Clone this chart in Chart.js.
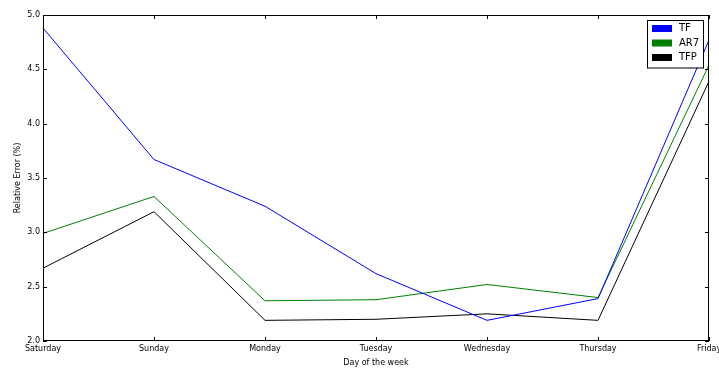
<!DOCTYPE html>
<html>
<head>
<meta charset="utf-8">
<script src="https://cdn.jsdelivr.net/npm/chart.js@4"></script>
<style>
  html, body { margin: 0; padding: 0; background: #fff; }
  #wrap { width: 719px; height: 372px; }
</style>
</head>
<body>
<div id="wrap"><canvas id="chart" width="719" height="372"></canvas></div>
<script>
// Data
const days = ['Saturday', 'Sunday', 'Monday', 'Tuesday', 'Wednesday', 'Thursday', 'Friday'];
const tfValues = [4.88, 3.67, 3.24, 2.62, 2.19, 2.39, 4.77];
const ar7Values = [2.99, 3.33, 2.37, 2.38, 2.52, 2.40, 4.54];
const tfpValues = [2.67, 3.19, 2.19, 2.20, 2.25, 2.19, 4.39];
const yTicks = [2.0, 2.5, 3.0, 3.5, 4.0, 4.5, 5.0];

const FONT = { family: 'DejaVu Sans', size: 8 };

// Frame around the axes, inward ticks and a boxed legend (matplotlib look)
const framePlugin = {
    id: 'frame',
    afterDraw(chart) {
        const ctx = chart.ctx;
        const a = chart.chartArea;
        const xs = chart.scales.x;
        const ys = chart.scales.y;
        ctx.save();
        ctx.strokeStyle = '#000';
        ctx.lineWidth = 1;
        ctx.strokeRect(a.left + 0.5, a.top + 0.5, a.right - a.left - 1, a.bottom - a.top - 1);

        // inward tick marks
        ctx.beginPath();
        xs.ticks.forEach((t, i) => {
            const px = Math.round(xs.getPixelForTick(i)) + 0.5;
            ctx.moveTo(px, a.bottom); ctx.lineTo(px, a.bottom - 4);
            ctx.moveTo(px, a.top); ctx.lineTo(px, a.top + 4);
        });
        ys.ticks.forEach((t, i) => {
            const py = Math.round(ys.getPixelForTick(i)) + 0.5;
            ctx.moveTo(a.left, py); ctx.lineTo(a.left + 4, py);
            ctx.moveTo(a.right, py); ctx.lineTo(a.right - 4, py);
        });
        ctx.stroke();

        // legend box in the upper right corner
        const sets = chart.data.datasets;
        const boxW = 56, rowH = 14.5;
        const boxH = sets.length * rowH + 4;
        const bx = a.right - 62, by = a.top + 5;
        ctx.fillStyle = '#fff';
        ctx.fillRect(bx, by, boxW, boxH);
        ctx.strokeStyle = '#000';
        ctx.strokeRect(bx + 0.5, by + 0.5, boxW, boxH);
        ctx.font = '10px "DejaVu Sans"';
        ctx.textBaseline = 'middle';
        sets.forEach((ds, i) => {
            const cy = by + 8.5 + i * rowH;
            ctx.fillStyle = ds.borderColor;
            ctx.fillRect(bx + 5, cy - 3.5, 20, 7);
            ctx.fillStyle = '#000';
            ctx.fillText(ds.label, bx + 32, cy);
        });
        ctx.restore();
    }
};

const chart = new Chart(document.getElementById('chart'), {
    type: 'line',
    data: {
        labels: days,
        datasets: [
            { label: 'TF', data: tfValues, borderColor: '#0000ff' },
            { label: 'AR7', data: ar7Values, borderColor: '#008000' },
            { label: 'TFP', data: tfpValues, borderColor: '#000000' }
        ].map(ds => Object.assign(ds, {
            borderWidth: 1,
            pointRadius: 0,
            tension: 0,
            fill: false
        }))
    },
    options: {
        responsive: false,
        animation: false,
        layout: { padding: { left: 0, right: 10, top: 15, bottom: 0 } },
        plugins: {
            legend: { display: false },
            tooltip: { enabled: false }
        },
        scales: {
            x: {
                offset: false,
                grid: { display: false, drawTicks: false },
                border: { display: false },
                ticks: { color: '#000', font: FONT, padding: 3, maxRotation: 0, autoSkip: false },
                title: { display: true, text: 'Day of the week', color: '#000', font: FONT, padding: { top: 0, bottom: 4.5 } },
                afterFit(scale) {
                    scale.height = 31;
                    scale.paddingLeft = 0;
                    scale.paddingRight = 0;
                }
            },
            y: {
                min: 2.0,
                max: 5.0,
                grid: { display: false, drawTicks: false },
                border: { display: false },
                afterBuildTicks(scale) {
                    scale.ticks = yTicks.map(v => ({ value: v }));
                },
                ticks: {
                    color: '#000',
                    font: FONT,
                    padding: 3,
                    callback: v => Number(v).toFixed(1)
                },
                title: { display: true, text: 'Relative Error (%)', color: '#000', font: FONT, padding: { top: 13, bottom: 0 } },
                afterFit(scale) {
                    scale.width = 43;
                    scale.paddingTop = 0;
                    scale.paddingBottom = 0;
                }
            }
        }
    },
    plugins: [framePlugin]
});
</script>
</body>
</html>
